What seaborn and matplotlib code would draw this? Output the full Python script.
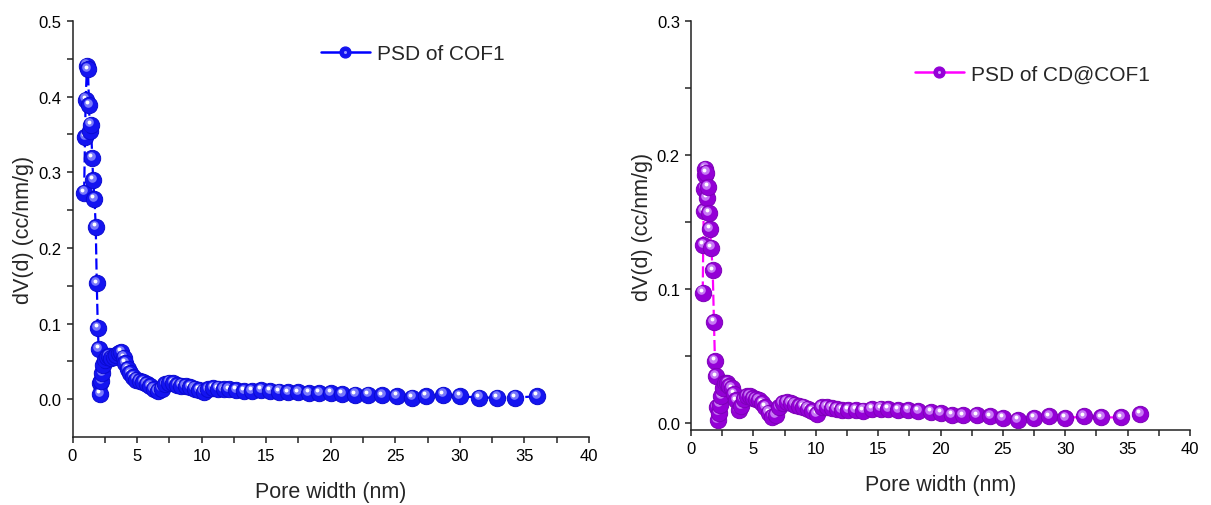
import numpy as np
import pandas as pd
import matplotlib
matplotlib.use("Agg")
import matplotlib.pyplot as plt
import matplotlib.transforms as mtransforms
from matplotlib.lines import Line2D
from matplotlib.legend_handler import HandlerTuple
import seaborn as sns

# ---------------- data ----------------
cof1_x = [0.90, 0.97, 1.02, 1.12, 1.20, 1.28, 1.34, 1.43, 1.53, 1.60, 1.70, 1.80,
          1.88, 1.96, 2.03, 2.10, 2.16, 2.22, 2.30, 2.40, 2.52, 2.66, 2.82, 3.00,
          3.18, 3.38, 3.58, 3.78, 3.95, 4.10, 4.28, 4.48, 4.70, 4.94, 5.20, 5.46,
          5.74, 6.02, 6.30, 6.60, 6.90, 7.20, 7.50, 7.80, 8.12, 8.44, 8.78, 9.12,
          9.46, 9.80, 10.16, 10.52, 10.90, 11.30, 11.70, 12.1, 12.7, 13.3, 13.9,
          14.6, 15.3, 16.0, 16.7, 17.5, 18.3, 19.1, 20.0, 20.9, 21.9, 22.9, 24.0,
          25.1, 26.3, 27.4, 28.7, 30.0, 31.5, 32.9, 34.3, 36.0]
cof1_y = [0.273, 0.347, 0.396, 0.441, 0.436, 0.389, 0.355, 0.363, 0.319, 0.290, 0.265, 0.228,
          0.153, 0.094, 0.066, 0.022, 0.007, 0.024, 0.035, 0.045, 0.052, 0.056, 0.057, 0.055,
          0.056, 0.058, 0.061, 0.062, 0.055, 0.048, 0.040, 0.034, 0.029, 0.026, 0.024, 0.023,
          0.020, 0.017, 0.013, 0.011, 0.014, 0.020, 0.022, 0.021, 0.019, 0.018, 0.017, 0.016,
          0.014, 0.012, 0.010, 0.013, 0.015, 0.014, 0.013, 0.013, 0.012, 0.011, 0.011,
          0.012, 0.011, 0.010, 0.009, 0.009, 0.008, 0.008, 0.008, 0.007, 0.006, 0.006, 0.005,
          0.004, 0.002, 0.004, 0.006, 0.004, 0.002, 0.002, 0.002, 0.004]

cd_x = [0.94, 0.98, 1.02, 1.06, 1.10, 1.16, 1.22, 1.28, 1.36, 1.42, 1.52, 1.62, 1.74,
        1.84, 1.92, 2.00, 2.06, 2.14, 2.22, 2.32, 2.44, 2.58, 2.74, 2.90, 3.08, 3.26,
        3.44, 3.62, 3.82, 4.02, 4.24, 4.46, 4.70, 4.94, 5.18, 5.44, 5.70, 5.96, 6.22,
        6.50, 6.78, 7.06, 7.36, 7.66, 7.98, 8.32, 8.66, 9.00, 9.36, 9.72, 10.10, 10.50,
        10.90, 11.30, 11.7, 12.1, 12.6, 13.2, 13.8, 14.5, 15.2, 15.8, 16.6, 17.4, 18.2,
        19.2, 20.0, 20.9, 21.8, 22.9, 24.0, 25.0, 26.2, 27.5, 28.7, 30.0, 31.5, 32.9,
        34.5, 36.0]
cd_y = [0.0975, 0.133, 0.158, 0.175, 0.185, 0.190, 0.187, 0.168, 0.176, 0.157, 0.145, 0.131, 0.114,
        0.0756, 0.0465, 0.035, 0.012, 0.0026, 0.008, 0.014, 0.020, 0.026, 0.030, 0.030, 0.028, 0.026,
        0.022, 0.017, 0.010, 0.013, 0.018, 0.020, 0.020, 0.019, 0.018, 0.017, 0.015, 0.012, 0.008,
        0.005, 0.006, 0.012, 0.015, 0.016, 0.015, 0.014, 0.013, 0.0125, 0.011, 0.009, 0.007, 0.012,
        0.012, 0.0115, 0.0105, 0.010, 0.010, 0.0097, 0.0095, 0.0105, 0.011, 0.0108, 0.010, 0.0097, 0.009,
        0.0085, 0.0077, 0.0064, 0.0059, 0.0059, 0.0051, 0.0038, 0.0026, 0.0038, 0.0051, 0.0038, 0.0051, 0.0044,
        0.0044, 0.0069]

x_ticks = [0, 5, 10, 15, 20, 25, 30, 35, 40]
left_yticks = [0.0, 0.1, 0.2, 0.3, 0.4, 0.5]
right_yticks = [0.0, 0.1, 0.2, 0.3]
labels = ["PSD of COF1", "PSD of CD@COF1"]
xlabel = "Pore width (nm)"
ylabel = "dV(d) (cc/nm/g)"

# ---------------- style ----------------
sns.set_theme(style="ticks")
plt.rcParams["font.family"] = ["Liberation Sans", "DejaVu Sans"]
plt.rcParams["axes.linewidth"] = 1.1
for k in ["xtick.major", "ytick.major", "xtick.minor", "ytick.minor"]:
    plt.rcParams[k + ".width"] = 1.1
    plt.rcParams[k + ".size"] = 4.5

W, H = 1211, 506
fig = plt.figure(figsize=(W / 100, H / 100), dpi=100)
ax1 = fig.add_axes([72.5 / W, (H - 438) / H, 516.5 / W, 416 / H])
ax2 = fig.add_axes([691 / W, (H - 431) / H, 499 / W, 409 / H])

MS = 11.8  # marker diameter in points


def draw(ax, x, y, line_color, face, edge, hi1, label, xlim, ylim, yticks, leg_xy):
    df = pd.DataFrame({"x": x, "y": y})
    sns.lineplot(data=df, x="x", y="y", ax=ax, sort=False, estimator=None,
                 color=line_color, lw=1.6, zorder=2)
    ax.lines[-1].set_dashes((5, 1.8))
    # shaded balls, drawn one after another so later balls cover earlier highlights
    t1 = mtransforms.offset_copy(ax.transData, fig=fig, x=-1.5, y=2.2, units="dots")
    t2 = mtransforms.offset_copy(ax.transData, fig=fig, x=-2.0, y=2.8, units="dots")
    for i, (xi, yi) in enumerate(zip(x, y)):
        z = 3 + i * 1e-3
        ax.plot([xi], [yi], ls="none", marker="o", ms=MS, mfc=face, mec=edge, mew=0.7, zorder=z)
        ax.plot([xi], [yi], ls="none", marker="o", ms=6.2, mfc=hi1, mec="none", alpha=0.75,
                transform=t1, zorder=z + 3e-4)
        ax.plot([xi], [yi], ls="none", marker="o", ms=2.8, mfc="white", mec="none",
                transform=t2, zorder=z + 6e-4)
    ax.set_xlim(*xlim)
    ax.set_ylim(*ylim)
    ax.set_xticks(x_ticks)
    ax.set_xticks(np.arange(2.5, 40, 5), minor=True)
    ax.set_yticks(yticks)
    ax.set_yticks(np.arange(0.05, yticks[-1], 0.1), minor=True)
    ax.set_yticklabels([f"{v:.1f}" for v in yticks])
    ax.tick_params(labelsize=12, colors="#222222", labelcolor="black")
    ax.set_xlabel(xlabel, fontsize=15.5, labelpad=13)
    ax.set_ylabel(ylabel, fontsize=15.5, labelpad=3)
    for s in ["top", "right"]:
        ax.spines[s].set_visible(False)
    for s in ["left", "bottom"]:
        ax.spines[s].set_color("#222222")
    h_line = Line2D([], [], color=line_color, lw=1.8, marker="o", ms=7.8, mfc=face, mec=face)
    h_hi = Line2D([], [], ls="none", marker="o", ms=2.2, mfc=hi1, mec="none")
    ax.legend([(h_line, h_hi)], [label], handler_map={tuple: HandlerTuple(ndivide=1, pad=0)},
              loc="center left", bbox_to_anchor=leg_xy, bbox_transform=fig.transFigure,
              frameon=False, fontsize=15, handlelength=2.35, handletextpad=0.35,
              borderpad=0, borderaxespad=0)


draw(ax1, cof1_x, cof1_y, "#0000FF", "#1414F0", "#0A0AD0", "#9A9AFF", labels[0],
     (0, 40), (-0.05, 0.5), left_yticks, (321 / W, 1 - 55 / H))
draw(ax2, cd_x, cd_y, "#FF00FF", "#9400D6", "#7E00B8", "#D8A0FF", labels[1],
     (0, 40), (-0.005, 0.3), right_yticks, (915 / W, 1 - 75 / H))

fig.savefig("out.png", dpi=100)
